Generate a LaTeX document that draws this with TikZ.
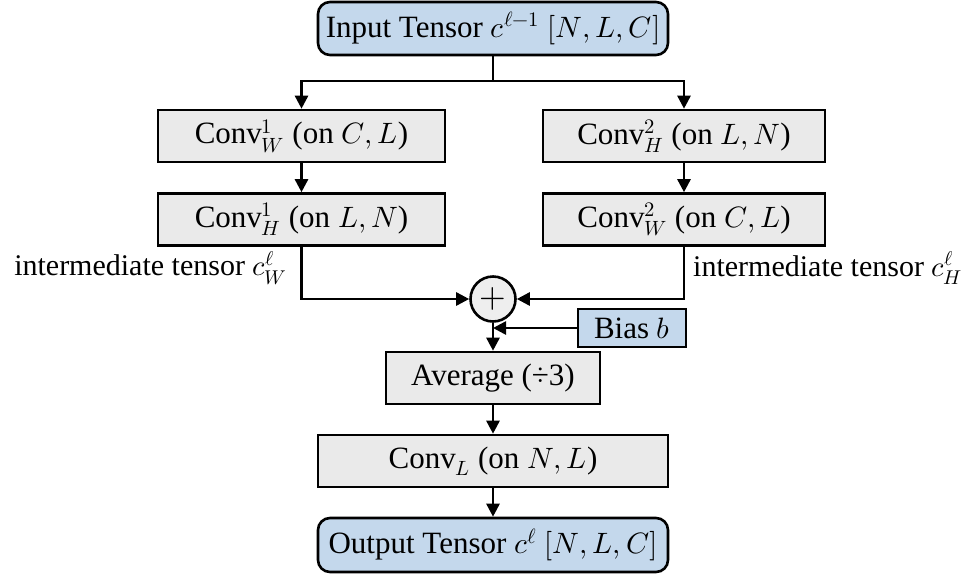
\documentclass[tikz,border=0pt]{standalone}
\usepackage{fontspec}
\usepackage{unicode-math}
\setmainfont{Liberation Serif}
\setmathfont{Latin Modern Math}[Scale=0.95]
\usetikzlibrary{arrows.meta}
\definecolor{boxgray}{RGB}{234,234,234}
\definecolor{boxblue}{RGB}{196,216,236}
\definecolor{circgray}{RGB}{238,238,238}
\begin{document}
\begin{tikzpicture}[x=1pt,y=-1pt,
  every node/.style={font=\fontsize{31}{36}\selectfont},
  graybox/.style={draw=black, line width=2.6pt, fill=boxgray, inner sep=0pt, minimum height=52pt},
  bluebox/.style={draw=black, line width=2.6pt, fill=boxblue, inner sep=0pt, rounded corners=12pt, minimum height=53pt},
  sidelabel/.style={font=\fontsize{30}{36}\selectfont, inner sep=0pt},
  conn/.style={line width=2.6pt, -{Triangle[length=13pt,width=13pt]}},
  plain/.style={line width=2.6pt}]
\useasboundingbox (0,0) rectangle (966,584);
\node[bluebox, minimum width=350pt] (in) at (493,28.5) {Input Tensor $c^{\ell-1}$ $[N,L,C]$};
\node[graybox, minimum width=287pt] (cw1) at (301.5,136) {Conv$^1_W$ (on $C,L$)};
\node[graybox, minimum width=287pt] (ch1) at (301.5,219.5) {Conv$^1_H$ (on $L,N$)};
\node[graybox, minimum width=282pt] (ch2) at (684,136) {Conv$^2_H$ (on $L,N$)};
\node[graybox, minimum width=282pt] (cw2) at (684,219.5) {Conv$^2_W$ (on $C,L$)};
\node[draw=black, line width=2.6pt, fill=circgray, circle, minimum size=45pt, inner sep=0pt, font=\fontsize{36}{40}\selectfont] (plus) at (493,299) {$+$};
\node[bluebox, rounded corners=0pt, minimum width=108pt, minimum height=38pt] (bias) at (632,328) {Bias $b$};
\node[graybox, minimum width=214pt] (avg) at (493,378) {Average (÷3)};
\node[graybox, minimum width=350pt] (convl) at (493,461) {Conv$_L$ (on $N,L$)};
\node[bluebox, minimum width=350pt, minimum height=54pt] (out) at (493,545) {Output Tensor $c^{\ell}$ $[N,L,C]$};
\node[sidelabel, anchor=east] (lw) at (287,268) {intermediate tensor $c^{\ell}_W$};
\node[sidelabel, anchor=west] (lh) at (693,268) {intermediate tensor $c^{\ell}_H$};
\coordinate (split) at (493,81);
\coordinate (biasjoin) at (493,328);
\draw[plain] (in.south) -- (split);
\draw[conn] (split) -| (cw1.north);
\draw[conn] (split) -| (ch2.north);
\draw[conn] (cw1) -- (ch1);
\draw[conn] (ch2) -- (cw2);
\draw[conn] (ch1.south) |- (plus.west);
\draw[conn] (cw2.south) |- (plus.east);
\draw[conn] (bias.west) -- (biasjoin);
\draw[conn] (plus.south) -- (avg.north);
\draw[conn] (avg) -- (convl);
\draw[conn] (convl) -- (out);
\end{tikzpicture}
\end{document}
